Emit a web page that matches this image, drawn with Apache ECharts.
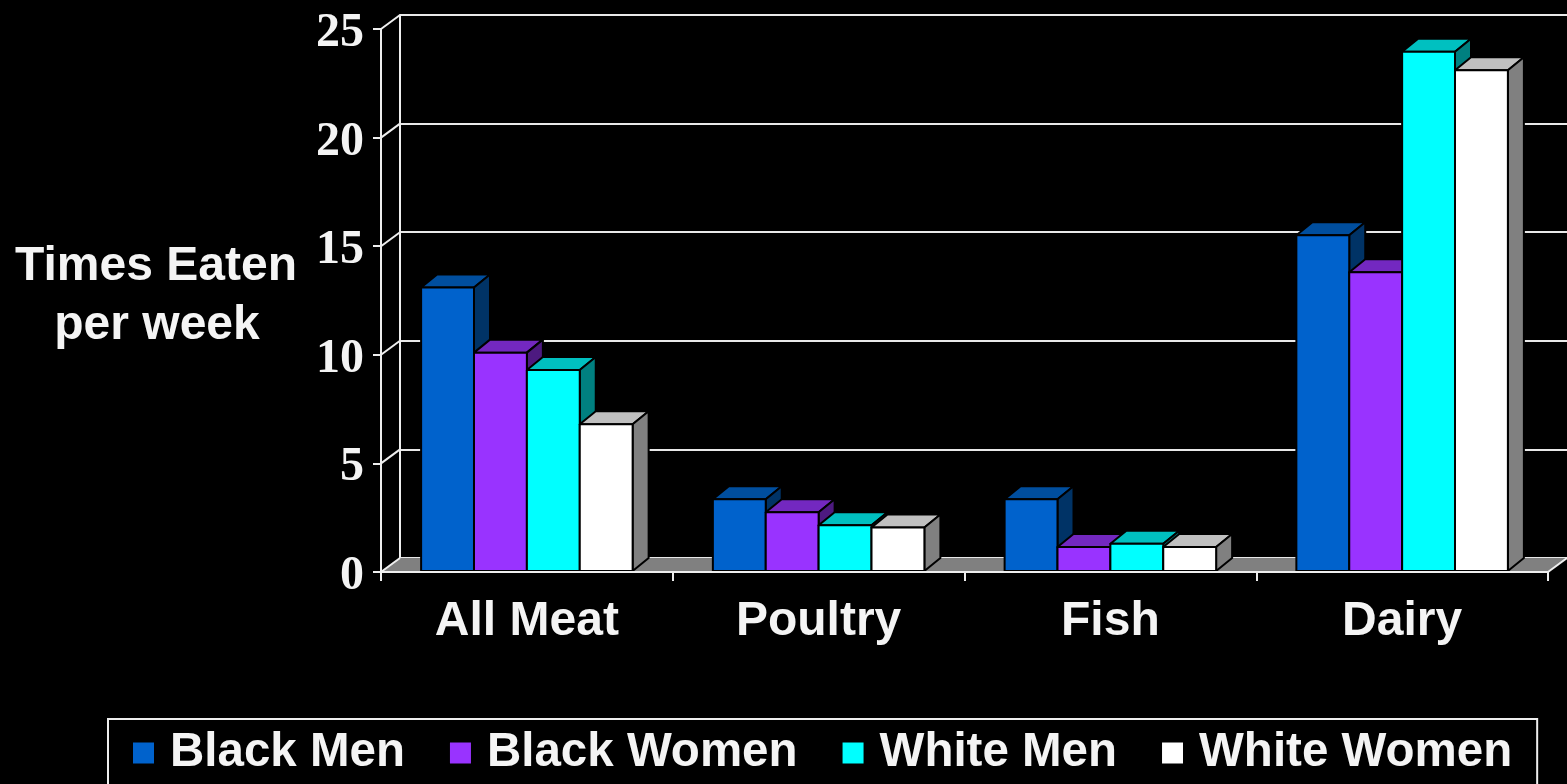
<!DOCTYPE html>
<html>
<head>
<meta charset="utf-8">
<script src="https://cdn.jsdelivr.net/npm/echarts@6/dist/echarts.min.js"></script>
<style>
html,body{margin:0;padding:0;background:#000;}
#chart{width:1567px;height:784px;}
</style>
</head>
<body>
<div id="chart"></div>
<script>
const categories = ['All Meat', 'Poultry', 'Fish', 'Dairy'];
const seriesNames = ['Black Men', 'Black Women', 'White Men', 'White Women'];
const blackMen = [13.1, 3.35, 3.35, 15.5];
const blackWomen = [10.1, 2.75, 1.15, 13.8];
const whiteMen = [9.3, 2.15, 1.3, 23.95];
const whiteWomen = [6.8, 2.05, 1.15, 23.1];
const yTicks = [0, 5, 10, 15, 20, 25];

const seriesValues = [blackMen, blackWomen, whiteMen, whiteWomen];
const faceColors = [
  { front: '#0062CC', top: '#004E9E', side: '#003366' },
  { front: '#9933FF', top: '#7328C0', side: '#4D1A80' },
  { front: '#00FFFF', top: '#00C0C0', side: '#008080' },
  { front: '#FFFFFF', top: '#C0C0C0', side: '#808080' }
];
const TEXT = '#f4f4f4';
const SANS = '"Liberation Sans", Arial, sans-serif';
const BAR_DX = 16, BAR_DY = 13;
const WALL_DX = 19, WALL_DY = 14;
const GROUP_FRAC = 0.725;

function barRender(idx) {
  const c = faceColors[idx];
  return function (params, api) {
    const cat = api.value(0), val = api.value(1);
    const base = api.coord([cat, 0]);
    const top = api.coord([cat, val]);
    const catW = api.size([1, 0])[0];
    const groupW = catW * GROUP_FRAC;
    const bw = groupW / 4;
    const x0 = base[0] - groupW / 2 + idx * bw;
    const x1 = x0 + bw;
    const yb = base[1] - 1, yt = top[1];
    const stroke = { stroke: '#000', lineWidth: 2, lineJoin: 'round' };
    return {
      type: 'group',
      children: [
        { type: 'polygon', shape: { points: [[x0, yt], [x1, yt], [x1 + BAR_DX, yt - BAR_DY], [x0 + BAR_DX, yt - BAR_DY]] },
          style: Object.assign({ fill: c.top }, stroke) },
        { type: 'polygon', shape: { points: [[x1, yt], [x1 + BAR_DX, yt - BAR_DY], [x1 + BAR_DX, yb - BAR_DY], [x1, yb]] },
          style: Object.assign({ fill: c.side }, stroke) },
        { type: 'rect', shape: { x: x0, y: yt, width: bw, height: yb - yt },
          style: Object.assign({ fill: c.front }, stroke) }
      ]
    };
  };
}

const barSeries = seriesValues.map((vals, i) => ({
  name: seriesNames[i],
  type: 'custom',
  xAxisIndex: 0, yAxisIndex: 0,
  itemStyle: { color: faceColors[i].front },
  encode: { x: 0, y: 1 },
  data: vals.map((v, k) => [k, v]),
  renderItem: barRender(i),
  z: 3
}));

const floorSeries = {
  name: 'floor', type: 'custom', xAxisIndex: 0, yAxisIndex: 0, silent: true, z: 2,
  data: [[0, 0]],
  renderItem: function (params, api) {
    const cs = params.coordSys;
    const y0 = api.coord([0, 0])[1];
    const xl = cs.x, xr = cs.x + cs.width;
    return {
      type: 'group',
      children: [
        { type: 'polygon', shape: { points: [[xl, y0], [xr, y0], [xr + WALL_DX, y0 - WALL_DY], [xl + WALL_DX, y0 - WALL_DY]] },
          style: { fill: '#808080' } },
        { type: 'line', shape: { x1: xr, y1: y0, x2: xr + WALL_DX, y2: y0 - WALL_DY },
          style: { stroke: '#eeeeee', lineWidth: 2 } }
      ]
    };
  }
};

const connectorSeries = {
  name: 'connectors', type: 'custom', xAxisIndex: 0, yAxisIndex: 0, silent: true, z: 2,
  data: yTicks.map(v => [0, v]),
  renderItem: function (params, api) {
    const cs = params.coordSys;
    const y = api.coord([0, api.value(1)])[1];
    return { type: 'line', shape: { x1: cs.x, y1: y, x2: cs.x + WALL_DX, y2: y - WALL_DY },
      style: { stroke: '#eeeeee', lineWidth: 2 } };
  }
};

const chart = echarts.init(document.getElementById('chart'));
chart.setOption({
  backgroundColor: '#000',
  animation: false,
  grid: [
    { left: 381, right: 19, top: 29, bottom: 212 },
    { left: 400, right: 0, top: 15, bottom: 226 }
  ],
  xAxis: [
    { type: 'category', gridIndex: 0, data: categories, boundaryGap: true, z: 10,
      axisLine: { show: true, lineStyle: { color: '#eeeeee', width: 2 } },
      axisTick: { show: true, length: 9, inside: false, lineStyle: { color: '#eeeeee', width: 2 } },
      axisLabel: { color: TEXT, fontFamily: SANS, fontWeight: 'bold', fontSize: 48, margin: 26 },
      splitLine: { show: false } },
    { type: 'category', gridIndex: 1, data: categories, show: false }
  ],
  yAxis: [
    { type: 'value', gridIndex: 0, min: 0, max: 25, interval: 5, z: 10,
      axisLine: { show: true, lineStyle: { color: '#eeeeee', width: 2 } },
      axisTick: { show: true, length: 8, lineStyle: { color: '#eeeeee', width: 2 } },
      axisLabel: { margin: 17, formatter: '{n|{value}}',
        rich: { n: { color: TEXT, fontFamily: '"Liberation Serif", "Times New Roman", serif', fontWeight: 'bold', fontSize: 48, padding: [9, 0, 0, 0] } } },
      splitLine: { show: false } },
    { type: 'value', gridIndex: 1, min: 0, max: 25, interval: 5,
      axisLine: { show: true, lineStyle: { color: '#eeeeee', width: 2 } },
      axisTick: { show: false }, axisLabel: { show: false },
      splitLine: { show: true, lineStyle: { color: '#e8e8e8', width: 2 } } }
  ],
  legend: {
    data: seriesNames,
    left: 108, top: 719,
    orient: 'horizontal',
    icon: 'rect',
    itemWidth: 21, itemHeight: 21,
    itemGap: 45,
    padding: [10, 25, 30, 25],
    borderColor: '#eeeeee', borderWidth: 2,
    textStyle: { color: TEXT, fontFamily: SANS, fontWeight: 'bold', fontSize: 47.5, padding: [0, 0, 0, 11] },
    selectedMode: false
  },
  graphic: [
    { type: 'text', style: { text: 'Times Eaten', x: 156, y: 267, textAlign: 'center', textVerticalAlign: 'middle',
      fill: TEXT, font: 'bold 48px "Liberation Sans", Arial, sans-serif' } },
    { type: 'text', style: { text: 'per week', x: 157, y: 326, textAlign: 'center', textVerticalAlign: 'middle',
      fill: TEXT, font: 'bold 48px "Liberation Sans", Arial, sans-serif' } }
  ],
  series: [floorSeries, connectorSeries].concat(barSeries)
});
</script>
</body>
</html>
